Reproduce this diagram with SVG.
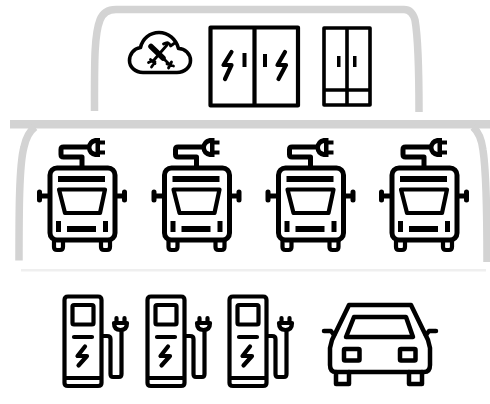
<svg xmlns="http://www.w3.org/2000/svg" width="490" height="404" viewBox="0 0 490 404">
<style>
.panel{fill:none;stroke:#d3d3d3;stroke-width:7.500}
.ink{fill:none;stroke:#000;stroke-linejoin:round;stroke-linecap:round}
.w5{stroke-width:5}.w45{stroke-width:4.500}.w4{stroke-width:4.200}.w3{stroke-width:3.600}
.solid{fill:#000;stroke:none}
</style>
<defs>
<g id="bus">
<rect class="ink w5" x="50" y="168" width="65" height="72" rx="7"/>
<rect class="solid" x="58" y="176" width="47" height="6"/>
<path class="ink w4" d="M59 189.500H105L100 213H65Z"/>
<rect class="solid" x="56" y="221" width="5" height="11"/>
<rect class="solid" x="103" y="221" width="5" height="11"/>
<rect class="solid" x="67" y="226" width="29" height="6"/>
<path class="ink w4" d="M54 241V247Q54 250 57 250H60Q63 250 63 247V241M101 241V247Q101 250 104 250H107Q110 250 110 247V241"/>
<path class="ink w5" d="M39.500 192V200M39.500 196H48M124.500 192V200M116 196H124.500"/>
<path class="ink w5" d="M82 167V157H63.500Q61 157 61 154.500V149.500Q61 147 63.500 147H89"/>
<path class="solid" d="M100 138H95Q87 140 87 147.500Q87 155 95 157H100V154.500H105V150.500H100V144.500H105V140.500H100Z"/>
<path d="M95.500 143Q91.500 144 91.500 147.500Q91.500 151 95.500 152Z" fill="#fff"/>
</g>
<g id="charger">
<path class="ink w4" d="M64.500 300Q64.500 296.500 68 296.500H98Q101.500 296.500 101.500 300V383Q101.500 386 98 386H68Q64.500 386 64.500 383ZM64.500 378H101.500"/>
<rect class="ink w4" x="72.500" y="305" width="21" height="19.500" rx="1.500"/>
<path class="ink w4" d="M74 337H92M85 346.500L77.500 356H87L78.500 365.500"/>
<path class="ink w4" d="M102 336H107Q110.500 336 110.500 339V374Q110.500 377 113 377H119Q121.500 377 121.500 374V330"/>
<path class="ink w4" d="M114 323H127Q127 330 120.500 330Q114 330 114 323ZM116.500 318V323M124.500 318V323"/>
</g>
</defs>
<g id="panels">
<path class="panel" d="M94.500 111C94.500 65 94 35 100 20Q104 9.500 116 9.500H404Q412 9.500 415 20C418.500 40 419 70 419 112"/>
<rect x="10" y="120" width="480" height="8.500" fill="#d3d3d3"/>
<path class="panel" d="M19 260.500C19 215 19 165 24 147Q27 133 35 127"/>
<path class="panel" d="M487 262C487 215 486 170 483 150Q481 134 473 127"/>
<rect x="21" y="269" width="465" height="2.500" fill="#efefef"/>
</g>
<g id="cloud-tools">
<path class="ink w3" d="M143 72.500H177C185 72.500 190.500 67 190.500 60.500C190.500 54 185 48.500 178.500 48.500C176 39 168 32.500 159 32.500C150 32.500 142.500 38.500 140.500 47.500C133.500 48.500 129.500 54.500 129.500 60.500C129.500 67 135 72.500 143 72.500Z"/>
<path class="ink" stroke-width="5.500" d="M151 46.500L163 58"/>
<path class="ink" stroke-width="2.800" d="M163 58L170 65M171.500 62L168.500 68M173.500 66L167 64M167 45L154 60M163.500 44Q169 40.500 170.500 46L174 43.500M150.500 59.500L155 63.500M148.500 62.500L153 60.500M151.500 67L155 62"/>
</g>
<g id="power-cabinet">
<path class="ink w4" d="M210.500 27.500H298V105.500H210.500ZM254.500 27.500V105.500"/>
<path class="ink w4" d="M231.500 52L223.500 65H231.500L225 79M285 52L277.500 65H286L278.500 79"/>
<rect class="solid" x="242.500" y="53" width="4" height="14"/>
<rect class="solid" x="263" y="54" width="4" height="13"/>
</g>
<g id="storage-cabinet">
<path class="ink w3" d="M324 28H370V105H324ZM347 28V105M324 90H370"/>
<rect class="solid" x="337" y="56" width="3.500" height="11"/>
<rect class="solid" x="353" y="56" width="3.500" height="11"/>
</g>
<g id="bus-1"><use href="#bus"/></g>
<g id="bus-2"><use href="#bus" x="114.500"/></g>
<g id="bus-3"><use href="#bus" x="228.500"/></g>
<g id="bus-4"><use href="#bus" x="342"/></g>
<g id="charger-1"><use href="#charger"/></g>
<g id="charger-2"><use href="#charger" x="83"/></g>
<g id="charger-3"><use href="#charger" x="165"/></g>
<g id="car">
<path class="ink w45" d="M349 305H411L428 340L430 348V365Q430 372 424 372H336Q330 372 330 365V348L332 340Z"/>
<path class="ink w45" d="M354 317H406L413 337H346Z"/>
<path class="ink w45" d="M324 331H331L334 335M436 331H429L426 335"/>
<rect class="ink w45" x="344" y="349" width="15.500" height="11.500" rx="1"/>
<rect class="ink w45" x="400" y="349" width="15.500" height="11.500" rx="1"/>
<path class="ink w45" d="M336 372V384H349V372M409 372V384H422V372"/>
</g>
</svg>
